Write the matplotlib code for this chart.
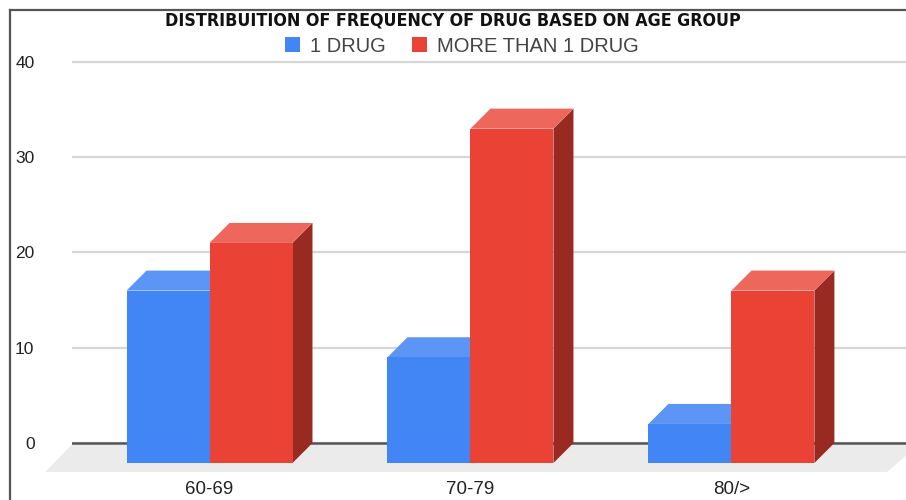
import matplotlib
matplotlib.use("Agg")
import matplotlib.pyplot as plt
from matplotlib.patches import Polygon, Patch
from matplotlib.lines import Line2D
from matplotlib import font_manager

# Data
age_groups = ["60-69", "70-79", "80/>"]
one_drug = [16, 9, 2]
more_than_one = [21, 33, 16]
y_ticks = [0, 10, 20, 30, 40]

# Colours (front, top, side)
BLUE = ("#4285F4", "#5C95F5", "#2F62B8")
RED = ("#EA4335", "#EE675C", "#982A22")

BAR_W = 0.318   # bar width in category units
DX = 0.0766     # depth offset along x
DY = 2.1        # depth offset along y

plt.rcParams["font.family"] = ["Liberation Sans", "DejaVu Sans"]

# pick a narrow bold face for the title if one is installed
names = {f.name: f for f in font_manager.fontManager.ttflist}
condensed = [f for f in font_manager.fontManager.ttflist
             if f.weight in ("bold", 700) and f.stretch in ("condensed", "semi-condensed", "extra-condensed")]
if "Liberation Sans Narrow" in names:
    title_prop = font_manager.FontProperties(family="Liberation Sans Narrow",
                                             weight="bold", size=14.5)
elif condensed:
    title_prop = font_manager.FontProperties(fname=condensed[0].fname, size=12.8)
else:
    title_prop = font_manager.FontProperties(family="Liberation Sans", weight="bold",
                                             size=12)

fig = plt.figure(figsize=(9.06, 5.0), dpi=100)
ax = fig.add_axes([72 / 906, 1 - 485 / 500, 1 - 72 / 906, (485 - 55) / 500])
ax.set_xlim(-0.527, 2.669)
ax.set_ylim(-4.41, 40.73)

for s in ax.spines.values():
    s.set_visible(False)

# grid lines on the back wall
ax.set_axisbelow(True)
ax.set_yticks(y_ticks)
ax.yaxis.grid(True, color="#d6d6d6", linewidth=1.6, zorder=0)
ax.axhline(0, color="#555555", linewidth=1.8, zorder=1.5)
ax.tick_params(axis="y", length=0, pad=27, labelsize=12.5, labelcolor="#222222")
ax.set_xticks(range(len(age_groups)))
ax.set_xticklabels(age_groups)
ax.tick_params(axis="x", length=0, pad=-3, labelsize=13.5, labelcolor="#222222")

# floor
floor = Polygon([(-0.527, -0.15), (2.72, -0.15), (2.596, -3.04), (-0.63, -3.04)],
                closed=True, facecolor="#ebebeb", edgecolor="none", zorder=1,
                clip_on=False)
ax.add_patch(floor)


def bar3d(x0, v, colors, z):
    front, top, side = colors
    x1 = x0 + BAR_W
    ax.add_patch(Polygon([(x0, -DY), (x1, -DY), (x1, v), (x0, v)],
                         facecolor=front, edgecolor="none", zorder=z + 0.2))
    ax.add_patch(Polygon([(x0, v), (x1, v), (x1 + DX, v + DY), (x0 + DX, v + DY)],
                         facecolor=top, edgecolor="none", zorder=z + 0.1))
    ax.add_patch(Polygon([(x1, -DY), (x1 + DX, 0), (x1 + DX, v + DY), (x1, v)],
                         facecolor=side, edgecolor="none", zorder=z))


for i in range(len(age_groups)):
    bar3d(i - BAR_W, one_drug[i], BLUE, 2)
    bar3d(i, more_than_one[i], RED, 3)

# title and legend
fig.text(0.5, 1 - 21 / 500, "DISTRIBUITION OF FREQUENCY OF DRUG BASED ON AGE GROUP",
         ha="center", va="center", fontproperties=title_prop, color="#111111")
handles = [Patch(facecolor=BLUE[0]), Patch(facecolor=RED[0])]
fig.legend(handles, ["1 DRUG", "MORE THAN 1 DRUG"], loc="center",
           bbox_to_anchor=(0.51, 1 - 46 / 500), ncol=2, frameon=False,
           fontsize=14.5, handlelength=0.75, handleheight=0.75,
           handletextpad=0.5, columnspacing=1.3, labelcolor="#444444")

# outer frame
fig.add_artist(Line2D([10 / 906, 1], [1 - 10 / 500, 1 - 10 / 500],
                      color="#555555", linewidth=1.6))
fig.add_artist(Line2D([10 / 906, 10 / 906], [0, 1 - 10 / 500],
                      color="#555555", linewidth=1.6))

fig.savefig("out.png", dpi=100, facecolor="white")
